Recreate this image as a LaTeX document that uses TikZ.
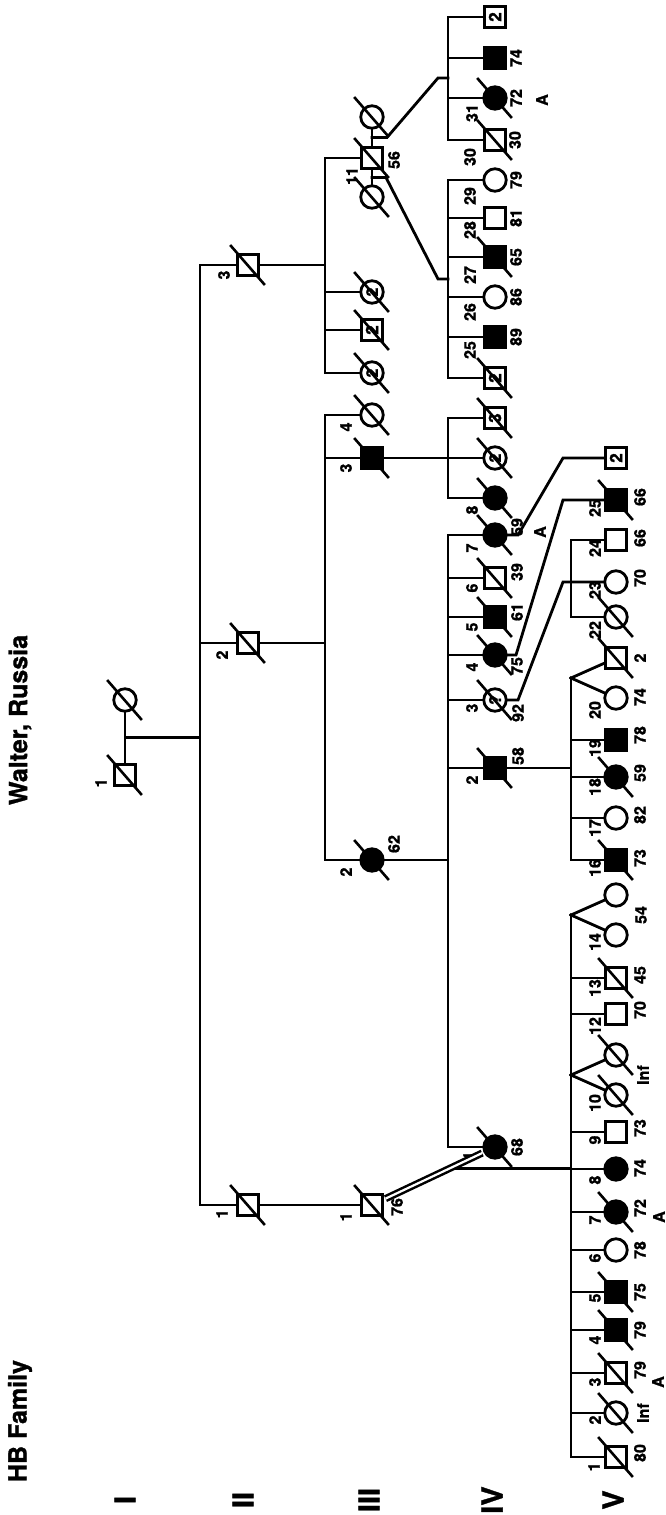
\documentclass[tikz,border=0pt]{standalone}
\usepackage{fontspec}
\setmainfont{TeX Gyre Heros}[BoldFeatures={FakeBold=1.2}]
\usepackage{tikz}
\usetikzlibrary{calc,positioning}

\begin{document}
\begin{tikzpicture}[x=1pt, y=-1pt, line width=2.8pt, line cap=rect,
		male/.style={draw, rectangle, fill=white, minimum size=21.5pt, inner sep=0pt, rotate=90, font=\fontsize{17}{17}\selectfont\bfseries},
		female/.style={draw, circle, fill=white, minimum size=22.5pt, inner sep=0pt, rotate=90, font=\fontsize{16}{16}\selectfont\bfseries},
		aff/.style={fill=black},
		idl/.style={rotate=90, inner sep=0pt, font=\fontsize{16}{16}\selectfont\bfseries},
		slash/.style={line width=2.6pt},
		gen/.style={rotate=90, inner sep=0pt, font=\fontsize{29}{29}\selectfont\bfseries},
		ttl/.style={rotate=90, inner sep=0pt, font=\fontsize{25}{25}\selectfont\bfseries}]
	\fill[white] (0,0) rectangle (666,1515);
	\useasboundingbox (0,0) rectangle (666,1515);

	% titles and generations
	\node[ttl] (title) at (20,1421) {HB Family};
	\node[ttl] (place) at (20,720) {Walter, Russia};
	\node[gen] (gI) at (125,1500) {I};
	\node[gen] (gII) at (243,1500) {II};
	\node[gen] (gIII) at (369,1500) {III};
	\node[gen] (gIV) at (492,1500) {IV};
	\node[gen] (gV) at (613,1500) {V};

	% sibship lines
	\coordinate (sII) at (200,0);
	\coordinate (sIII) at (325,0);
	\coordinate (sIV) at (448,0);
	\coordinate (sV) at (571,0);

	% generation I
	\node[male] (i1) at (125,775) {};
	\node[female] (i2) at (125,700) {};
	% generation II
	\node[male] (ii1) at (248,1205) {};
	\node[male] (ii2) at (248,643) {};
	\node[male] (ii3) at (248,265) {};
	% generation III
	\node[male] (iii1) at (372,1205) {};
	\node[female,aff] (iii2) at (372,860) {};
	\node[male,aff] (iii3) at (372,458) {};
	\node[female] (iii4) at (372,415) {};
	\node[female] (iiif2b) at (372,373) {2};
	\node[male] (iiim2) at (372,330) {2};
	\node[female] (iiif2a) at (372,292) {2};
	\node[female] (w2) at (372,197) {};
	\node[male] (iii11) at (372,158) {};
	\node[female] (w1) at (372,117) {};
	% generation IV
	\node[male] (ivA) at (495,17) {2};
	\node[male,aff] (ivB) at (495,58) {};
	\node[female,aff] (iv31) at (495,98) {};
	\node[male] (iv30) at (495,140) {};
	\node[female] (iv29) at (495,180) {};
	\node[male] (iv28) at (495,218) {};
	\node[male,aff] (iv27) at (495,257) {};
	\node[female] (iv26) at (495,297) {};
	\node[male,aff] (iv25) at (495,337) {};
	\node[male] (ivC) at (495,378) {2};
	\node[male] (ivm3) at (495,418) {3};
	\node[female] (ivf2) at (495,458) {2};
	\node[female,aff] (iv8) at (495,498) {};
	\node[female,aff] (iv7) at (495,535) {};
	\node[male] (iv6) at (495,578) {};
	\node[male,aff] (iv5) at (495,617) {};
	\node[female,aff] (iv4) at (495,655) {};
	\node[female] (iv3) at (495,700) {?};
	\node[male,aff] (iv2) at (495,768) {};
	\node[female,aff] (iv1) at (495,1147) {};
	% generation V
	\node[male] (vm2) at (616,458) {2};
	\node[male,aff] (v25) at (616,500) {};
	\node[male] (v24) at (616,540) {};
	\node[female] (v23) at (616,582) {};
	\node[female] (v22) at (616,617) {};
	\node[male] (v21) at (616,658) {};
	\node[female] (v20) at (616,698) {};
	\node[male,aff] (v19) at (616,740) {};
	\node[female,aff] (v18) at (616,777) {};
	\node[female] (v17) at (616,818) {};
	\node[male,aff] (v16) at (616,860) {};
	\node[female] (v15) at (616,895) {};
	\node[female] (v14) at (616,935) {};
	\node[male] (v13) at (616,978) {};
	\node[male] (v12) at (616,1014) {};
	\node[female] (v11) at (616,1055) {};
	\node[female] (v10) at (616,1095) {};
	\node[male] (v9) at (616,1132) {};
	\node[female,aff] (v8) at (616,1169) {};
	\node[female,aff] (v7) at (616,1212) {};
	\node[female] (v6) at (616,1250) {};
	\node[male,aff] (v5) at (616,1292) {};
	\node[male,aff] (v4) at (616,1330) {};
	\node[male] (v3) at (616,1373) {};
	\node[female] (v2) at (616,1413) {};
	\node[male] (v1) at (616,1457) {};

	% I -> II
	\draw (i2) -- (i1);
	\coordinate (mI) at ($(i2)!0.5!(i1)$);
	\draw (mI) -- (mI -| sII);
	\draw (ii3 -| sII) -- (ii1 -| sII);
	\foreach \n in {ii1,ii2,ii3} \draw (\n) -- (\n -| sII);

	% II -> III
	\draw (ii1) -- (iii1);
	\draw (ii2) -- (ii2 -| sIII);
	\draw (ii3) -- (ii3 -| sIII);
	\draw (iii4 -| sIII) -- (iii2 -| sIII);
	\foreach \n in {iii4,iii3,iii2} \draw (\n) -- (\n -| sIII);
	\draw (iii11 -| sIII) -- (iiif2b -| sIII);
	\foreach \n in {iii11,iiif2a,iiim2,iiif2b} \draw (\n) -- (\n -| sIII);

	% III -> IV
	\draw (w1) -- (iii11);
	\draw (iii11) -- (w2);
	\coordinate (mW1) at ($(w1)!0.5!(iii11)$);
	\coordinate (mW2) at ($(iii11)!0.5!(w2)$);
	\coordinate (jU) at ($(ivB -| sIV)!0.5!(iv31 -| sIV)$);
	\coordinate (jL) at ($(iv27 -| sIV)!0.55!(iv26 -| sIV)$);
	\draw (mW1) -- ++(15,0) -- ($(jU)+(-10,0)$) -- (jU);
	\draw (mW2) -- ++(14,0) -- ($(jL)+(-10,0)$) -- (jL);
	\draw (ivA -| sIV) -- (iv30 -| sIV);
	\foreach \n in {ivA,ivB,iv31,iv30} \draw (\n) -- (\n -| sIV);
	\draw (iv29 -| sIV) -- (ivC -| sIV);
	\foreach \n in {iv29,iv28,iv27,iv26,iv25,ivC} \draw (\n) -- (\n -| sIV);
	\draw (iii3) -- (iii3 -| sIV);
	\draw (ivm3 -| sIV) -- (iv8 -| sIV);
	\foreach \n in {ivm3,ivf2,iv8} \draw (\n) -- (\n -| sIV);
	\draw (iii2) -- (iii2 -| sIV);
	\draw (iv7 -| sIV) -- (iv1 -| sIV);
	\foreach \n in {iv7,iv6,iv5,iv4,iv3,iv2,iv1} \draw (\n) -- (\n -| sIV);

	% IV -> V
	\draw (iv7) -- ++(23,0) -- ($(vm2)+(-53,0)$) -- (vm2);
	\draw (iv4) -- ++(21,0) -- ($(v25)+(-53,0)$) -- (v25);
	\draw (iv3) -- ++(23,0) -- ($(v23)+(-53,0)$) -- (v23);
	\draw (v24 -| sV) -- (v22 -| sV);
	\foreach \n in {v24,v22} \draw (\n) -- (\n -| sV);
	\draw (iv2) -- (iv2 -| sV);
	\coordinate (tA) at ($(v21)!0.5!(v20)+(-45,0)$);
	\coordinate (tB) at ($(v15)!0.5!(v14)+(-45,0)$);
	\coordinate (tC) at ($(v11)!0.5!(v10)+(-45,0)$);
	\draw (tA) -- (v16 -| sV);
	\draw (tA) -- (v21);
	\draw (tA) -- (v20);
	\foreach \n in {v19,v18,v17,v16} \draw (\n) -- (\n -| sV);
	\draw (tB) -- (v1 -| sV);
	\draw (tB) -- (v15);
	\draw (tB) -- (v14);
	\draw (tC) -- (v11);
	\draw (tC) -- (v10);
	\foreach \n in {v13,v12,v9,v8,v7,v6,v5,v4,v3,v2,v1} \draw (\n) -- (\n -| sV);

	% deceased
	\foreach \n in {i1,i2,ii1,ii2,ii3,iii1,iii2,iii3,iii4,iiif2a,iiim2,iiif2b,w1,iii11,w2,
			iv31,iv30,iv27,ivC,ivm3,ivf2,iv8,iv7,iv6,iv5,iv4,iv3,iv2,iv1,
			v25,v22,v21,v18,v16,v13,v11,v10,v7,v5,v4,v3,v2,v1}
		\draw[slash] ([shift={(-17,-19)}]\n.center) -- ([shift={(16,19)}]\n.center);

	% individual numbers
	\foreach \n/\t/\x/\y in {i1/1/101/783, ii1/1/222/1214, ii2/2/222/655, ii3/3/224/275,
			iii1/1/346/1217, iii2/2/346/872, iii3/3/346/468, iii4/4/346/427, iii11/11/352/176,
			iv31/31/472/113, iv30/30/470/157, iv29/29/470/196, iv28/28/470/230, iv27/27/470/275,
			iv26/26/470/312, iv25/25/470/350, iv8/8/472/510, iv7/7/472/548, iv6/6/472/588,
			iv5/5/472/627, iv4/4/472/667, iv3/3/472/708, iv2/2/472/780, iv1/1/469/1156,
			v25/25/595/508, v24/24/595/548, v23/23/595/590, v22/22/595/630, v20/20/595/710,
			v19/19/595/748, v18/18/595/787, v17/17/595/828, v16/16/595/868, v14/14/595/942,
			v13/13/595/988, v12/12/595/1026, v10/10/595/1103, v9/9/595/1140, v8/8/595/1180,
			v7/7/595/1220, v6/6/595/1258, v5/5/595/1298, v4/4/595/1340, v3/3/595/1382,
			v2/2/595/1420, v1/1/594/1467}
		\node[idl] (\n-id) at (\x,\y) {\t};

	% ages
	\foreach \n/\t/\x/\y in {iii1/76/397/1207, iii2/62/394/844, iii11/56/394/160,
			ivB/74/516/58, iv31/72/516/98, iv30/30/515/140, iv29/79/516/180, iv28/81/516/218,
			iv27/65/516/257, iv26/86/516/297, iv25/89/516/337, iv7/59/517/527, iv6/39/517/572,
			iv5/61/517/612, iv4/75/517/666, iv3/92/518/713, iv2/58/518/756, iv1/68/517/1147,
			v25/66/640/497, v24/66/640/538, v23/70/640/578, v21/2/640/658, v20/74/640/697,
			v19/78/640/735, v18/59/640/773, v17/82/640/815, v16/73/640/858, v15/54/641/915,
			v13/45/640/975, v12/70/640/1010, v11/Inf/643/1075, v9/73/640/1128, v8/74/640/1168,
			v7/72/640/1208, v6/78/640/1250, v5/75/640/1292, v4/79/640/1330, v3/79/640/1370,
			v2/Inf/643/1413, v1/80/640/1453}
		\node[idl] (\n-age) at (\x,\y) {\t};
	\node[idl] (iv31-a) at (542,100) {A};
	\node[idl] (iv7-a) at (540,532) {A};
	\node[idl] (v7-a) at (659,1217) {A};
	\node[idl] (v3-a) at (658,1382) {A};

	% consanguineous couple
	\coordinate (cpl) at ($(iii1)!0.63!(iv1)$);
	\draw (cpl) -- (cpl -| sV);
	\draw[line cap=butt, double, double distance=2.2pt, line width=2.5pt, shorten <=1.5pt, shorten >=1.5pt] (iii1) -- (iv1);
\end{tikzpicture}
\end{document}
